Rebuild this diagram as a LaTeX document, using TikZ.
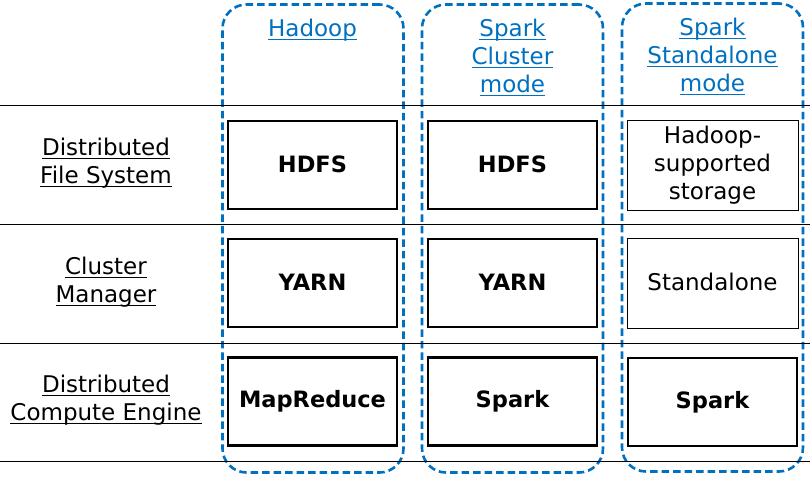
\documentclass[tikz,border=0pt]{standalone}
\usepackage{fontspec}
\setmainfont{DejaVu Sans}
\definecolor{hblue}{HTML}{0070C0}
\newcommand\myul[1]{\setbox0\hbox{#1}\rlap{\rule[-3pt]{\wd0}{1pt}}\box0}
\begin{document}
\begin{tikzpicture}[x=1pt,y=-1pt,
  lane/.style={draw=hblue, line width=2.6pt, dash pattern=on 7.5pt off 4pt, rounded corners=24pt, minimum width=181pt, minimum height=468pt, inner sep=0pt},
  thickbox/.style={draw, line width=2.7pt, fill=white, minimum width=169pt, minimum height=88pt, inner sep=0pt, align=center, font=\fontsize{22.5}{28}\selectfont\bfseries},
  thinbox/.style={draw, line width=0.8pt, fill=white, minimum width=171pt, minimum height=90pt, inner sep=0pt, align=center, font=\fontsize{23}{28}\selectfont},
  head/.style={text=hblue, align=center, inner sep=0pt, font=\fontsize{23}{28}\selectfont},
  rowlabel/.style={align=center, inner sep=0pt, font=\fontsize{23}{28}\selectfont},
  rule/.style={line width=0.8pt}]
\useasboundingbox (0,0) rectangle (810,479);
% lanes
\node[lane] (lane1) at (313,238.5) {};
\node[lane] (lane2) at (512.5,238.5) {};
\node[lane] (lane3) at (712.5,237.5) {};
% horizontal rules
\coordinate (r1a) at (0,105); \coordinate (r1b) at (810,105);
\coordinate (r2a) at (0,224); \coordinate (r2b) at (810,224);
\coordinate (r3a) at (0,343); \coordinate (r3b) at (810,343);
\coordinate (r4a) at (0,461); \coordinate (r4b) at (810,461);
\draw[rule] (r1a) -- (r1b);
\draw[rule] (r2a) -- (r2b);
\draw[rule] (r3a) -- (r3b);
\draw[rule] (r4a) -- (r4b);
% headers
\node[head] (h1) at (312.5,31) {\myul{Hadoop\strut}};
\node[head] (h2) at (512.5,59) {\myul{Spark\strut}\\\myul{Cluster\strut}\\\myul{mode\strut}};
\node[head] (h3) at (712.5,58) {\myul{Spark\strut}\\\myul{Standalone\strut}\\\myul{mode\strut}};
% row labels
\node[rowlabel] (l1) at (106,164) {\myul{Distributed\strut}\\\myul{File System\strut}};
\node[rowlabel] (l2) at (106,283) {\myul{Cluster\strut}\\\myul{Manager\strut}};
\node[rowlabel] (l3) at (106,401) {\myul{Distributed\strut}\\\myul{Compute Engine\strut}};
% boxes
\node[thickbox] (b11) at (312.5,165) {\raisebox{2pt}{HDFS}};
\node[thickbox] (b12) at (512.5,165) {\raisebox{2pt}{HDFS}};
\node[thinbox]  (b13) at (712.5,165) {Hadoop-\\supported\\storage};
\node[thickbox] (b21) at (312.5,283) {\raisebox{2pt}{YARN}};
\node[thickbox] (b22) at (512.5,283) {\raisebox{2pt}{YARN}};
\node[thinbox]  (b23) at (712.5,283) {\raisebox{2pt}{Standalone}};
\node[thickbox] (b31) at (312.5,401.5) {MapReduce};
\node[thickbox] (b32) at (512.5,401.5) {Spark};
\node[thickbox] (b33) at (712.5,402) {Spark};
\end{tikzpicture}
\end{document}
